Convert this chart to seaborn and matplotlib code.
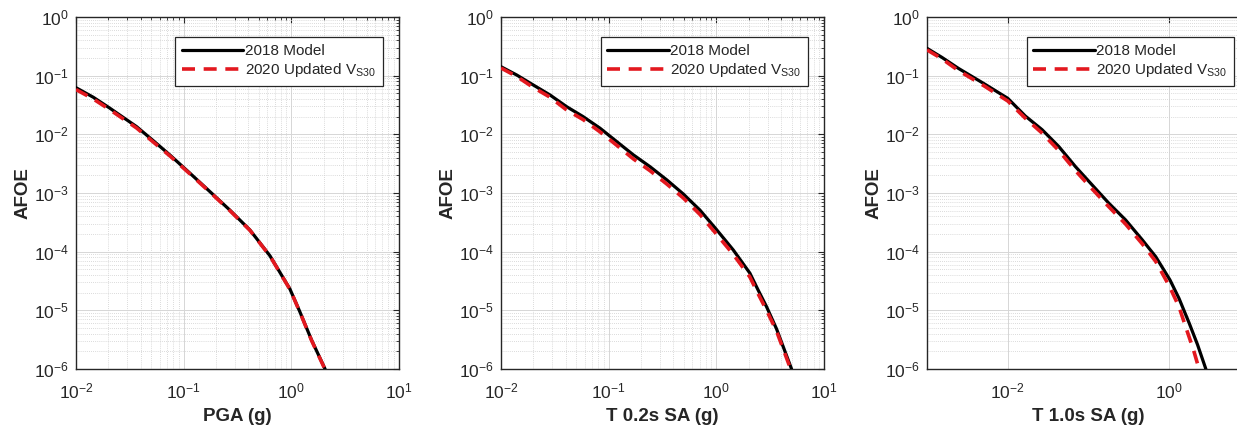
import numpy as np
import pandas as pd
import matplotlib
matplotlib.use("Agg")
import matplotlib.pyplot as plt
from matplotlib.ticker import LogLocator, FixedLocator, NullLocator
import seaborn as sns

# hazard curves (x in g, y = AFOE)
pga_x_2018 = [0.01, 0.0145, 0.0207, 0.0366, 0.0522, 0.0746, 0.1146, 0.176, 0.269, 0.413,
              0.634, 0.972, 1.2, 1.545, 2.06]
pga_y_2018 = [0.0624, 0.0428, 0.0278, 0.0135, 0.0078, 0.00444, 0.00217, 0.00105, 5.1e-4, 2.34e-4,
              8.5e-5, 2.3e-5, 9.5e-6, 3.1e-6, 1.0e-6]
pga_x_2020 = [0.01, 0.0145, 0.0207, 0.0366, 0.0522, 0.0746, 0.1146, 0.176, 0.269, 0.413,
              0.634, 0.972, 1.2, 1.545, 2.05]
pga_y_2020 = [0.058, 0.040, 0.0262, 0.0128, 0.0074, 0.00428, 0.00211, 0.00103, 5.0e-4, 2.31e-4,
              8.4e-5, 2.28e-5, 9.4e-6, 3.05e-6, 1.0e-6]

sa02_x_2018 = [0.01, 0.014, 0.01995, 0.0285, 0.0407, 0.058, 0.0832, 0.119, 0.17, 0.242,
               0.347, 0.494, 0.705, 1.0, 1.436, 2.05, 2.45, 2.93, 3.63, 5.0]
sa02_y_2018 = [0.142, 0.1026, 0.0693, 0.0469, 0.0296, 0.020, 0.0127, 0.0075, 0.00445, 0.00281,
               0.00167, 9.6e-4, 5.1e-4, 2.4e-4, 1.07e-4, 4.3e-5, 2.2e-5, 1.15e-5, 4.8e-6, 1.0e-6]
sa02_x_2020 = [0.01, 0.014, 0.01995, 0.0285, 0.0407, 0.058, 0.0832, 0.119, 0.17, 0.242,
               0.347, 0.494, 0.705, 1.0, 1.436, 2.05, 2.45, 2.93, 3.63, 4.9]
sa02_y_2020 = [0.135, 0.097, 0.063, 0.043, 0.026, 0.0178, 0.011, 0.0065, 0.0038, 0.0024,
               0.00142, 8.2e-4, 4.3e-4, 2.0e-4, 9.0e-5, 3.7e-5, 1.9e-5, 1.0e-5, 4.4e-6, 1.0e-6]

sa10_x_2018 = [0.001, 0.00152, 0.00245, 0.005, 0.01, 0.0165, 0.0266, 0.0428, 0.069, 0.111,
               0.179, 0.288, 0.465, 0.68, 1.02, 1.32, 1.77, 2.24, 2.84]
sa10_y_2018 = [0.292, 0.206, 0.133, 0.074, 0.0411, 0.0205, 0.0120, 0.0062, 0.00281, 0.00137,
               6.67e-4, 3.47e-4, 1.58e-4, 8.2e-5, 3.3e-5, 1.6e-5, 6.0e-6, 2.6e-6, 1.0e-6]
sa10_x_2020 = [0.001, 0.00152, 0.00245, 0.005, 0.01, 0.0165, 0.0266, 0.0428, 0.069, 0.111,
               0.179, 0.288, 0.465, 0.68, 1.0, 1.32, 1.6, 2.0, 2.34]
sa10_y_2020 = [0.275, 0.195, 0.122, 0.068, 0.037, 0.0188, 0.0105, 0.0053, 0.0024, 0.00117,
               5.8e-4, 2.95e-4, 1.35e-4, 6.8e-5, 2.6e-5, 1.15e-5, 5.2e-6, 2.1e-6, 1.0e-6]

x_labels = ["PGA (g)", "T 0.2s SA (g)", "T 1.0s SA (g)"]
series_names = ["2018 Model", r"2020 Updated V$_{\mathregular{S30}}$"]
y_ticks = [1e-6, 1e-5, 1e-4, 1e-3, 1e-2, 1e-1, 1e0]
x_ticks = [[1e-2, 1e-1, 1e0, 1e1], [1e-2, 1e-1, 1e0, 1e1], [1e-2, 1e0]]

sns.set_style("white")
plt.rcParams["font.family"] = ["Liberation Sans", "DejaVu Sans"]
plt.rcParams["mathtext.fontset"] = "custom"
plt.rcParams["mathtext.rm"] = "Liberation Sans"
plt.rcParams["mathtext.it"] = "Liberation Sans:italic"
plt.rcParams["mathtext.default"] = "regular"
plt.rcParams["axes.unicode_minus"] = False

panels = [
    (pga_x_2018, pga_y_2018, pga_x_2020, pga_y_2020, (1e-2, 1e1)),
    (sa02_x_2018, sa02_y_2018, sa02_x_2020, sa02_y_2020, (1e-2, 1e1)),
    (sa10_x_2018, sa10_y_2018, sa10_x_2020, sa10_y_2020, (1e-3, 1e1)),
]
lefts = [0.0614, 0.4050, 0.7494]

fig = plt.figure(figsize=(12.37, 4.30), dpi=100)

for i, (x18, y18, x20, y20, xlim) in enumerate(panels):
    # third panel runs past the right edge, as in the cropped reference
    ax = fig.add_axes([lefts[i], 0.1419, 0.2611, 0.8186])
    df18 = pd.DataFrame({"x": x18, "y": y18})
    df20 = pd.DataFrame({"x": x20, "y": y20})
    sns.lineplot(data=df18, x="x", y="y", ax=ax, color="black", lw=2.3,
                 sort=False, estimator=None, label=series_names[0], zorder=3)
    sns.lineplot(data=df20, x="x", y="y", ax=ax, color="#e3181f", lw=2.6,
                 linestyle=(0, (3.6, 2.4)), sort=False, estimator=None,
                 label=series_names[1], zorder=4)
    ax.set_xscale("log")
    ax.set_yscale("log")
    ax.set_xlim(*xlim)
    ax.set_ylim(1e-6, 1)
    ax.yaxis.set_major_locator(FixedLocator(y_ticks))
    ax.yaxis.set_minor_locator(LogLocator(base=10, subs=np.arange(2, 10), numticks=20))
    ax.xaxis.set_major_locator(FixedLocator(x_ticks[i]))
    if i == 2:
        ax.xaxis.set_minor_locator(NullLocator())
    else:
        ax.xaxis.set_minor_locator(LogLocator(base=10, subs=np.arange(2, 10), numticks=20))

    ax.grid(True, which="major", color="#d6d6d6", lw=0.7, ls="-")
    ax.grid(True, which="minor", color="#cfcfcf", lw=0.6, ls=(0, (1, 1.5)))
    ax.set_axisbelow(True)
    ax.tick_params(which="both", direction="in", top=True, right=True,
                   color="#262626", labelsize=12.5)
    ax.tick_params(which="major", length=4, width=0.8)
    ax.tick_params(which="minor", length=2, width=0.6)
    ax.tick_params(axis="x", which="major", pad=9)
    ax.tick_params(axis="y", which="major", pad=5)
    for s in ax.spines.values():
        s.set_color("#262626")
        s.set_linewidth(1.0)

    ax.set_xlabel(x_labels[i], fontsize=13.5, fontweight="bold", labelpad=5)
    ax.set_ylabel("AFOE", fontsize=13.5, fontweight="bold", labelpad=2)

    leg = ax.legend(loc="upper right", bbox_to_anchor=(0.95, 0.943),
                    fontsize=11, frameon=True, fancybox=False, framealpha=1,
                    edgecolor="#262626", handlelength=4.0, handletextpad=0.1,
                    borderpad=0.45, labelspacing=0.2, borderaxespad=0)
    leg.get_frame().set_linewidth(0.9)

fig.savefig("out.png", dpi=100)
